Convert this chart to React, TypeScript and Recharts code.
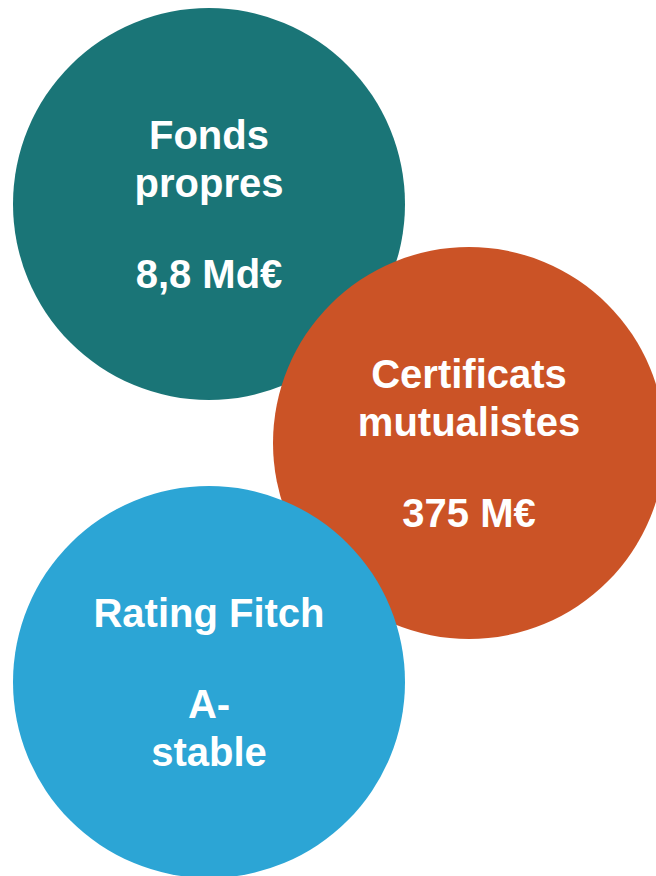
import * as React from "react";
import { Cell, Scatter, ScatterChart, XAxis, YAxis, ZAxis } from "recharts";

// bubble centres in page units (x right, y down), one per block
const names = ["Fonds propres", "Certificats mutualistes", "Rating Fitch"];
const centerX = [209, 469, 209];
const centerY = [204, 443, 682];
const titleLines = [["Fonds", "propres"], ["Certificats", "mutualistes"], ["Rating Fitch"]];
const valueLines = [["8,8 Md€"], ["375 M€"], ["A-", "stable"]];
const colors = ["#1a7577", "#cb5326", "#2ca5d5"];

const W = 656;
const H = 876;
const RADIUS = 196;
const LINE = 48;

const data = names.map((name, i) => ({
  name,
  x: centerX[i],
  y: centerY[i],
  z: 1,
  title: titleLines[i],
  value: valueLines[i],
}));

const textStyle = {
  fontFamily: "'Liberation Sans', Arial, sans-serif",
  fontWeight: 700,
  fontSize: 40,
  fill: "#ffffff",
};

function Bubble(props: any) {
  const { cx, cy, fill, payload } = props;
  const r = props.width ? props.width / 2 : props.size ? Math.sqrt(props.size / Math.PI) : RADIUS;
  const title: string[] = payload.title;
  const value: string[] = payload.value;
  return (
    <g>
      <circle cx={cx} cy={cy} r={r} fill={fill} />
      {title.map((t, i) => (
        <text key={"t" + i} x={cx} y={cy - 55 + i * LINE} textAnchor="middle" style={textStyle}>
          {t}
        </text>
      ))}
      {value.map((t, i) => (
        <text
          key={"v" + i}
          x={cx}
          y={cy + 84 - (value.length - 1 - i) * LINE}
          textAnchor="middle"
          style={textStyle}
        >
          {t}
        </text>
      ))}
    </g>
  );
}

export default function App() {
  const area = Math.PI * RADIUS * RADIUS;
  return (
    <div style={{ position: "absolute", left: 0, top: 0, width: W, height: H, background: "#ffffff" }}>
      <ScatterChart width={W} height={H} margin={{ top: 0, right: 0, bottom: 0, left: 0 }}>
        <XAxis type="number" dataKey="x" domain={[0, W]} hide />
        <YAxis type="number" dataKey="y" domain={[0, H]} reversed hide />
        <ZAxis type="number" dataKey="z" range={[area, area]} />
        <Scatter data={data} shape={Bubble} isAnimationActive={false}>
          {data.map((d, i) => (
            <Cell key={d.name} fill={colors[i]} />
          ))}
        </Scatter>
      </ScatterChart>
    </div>
  );
}
